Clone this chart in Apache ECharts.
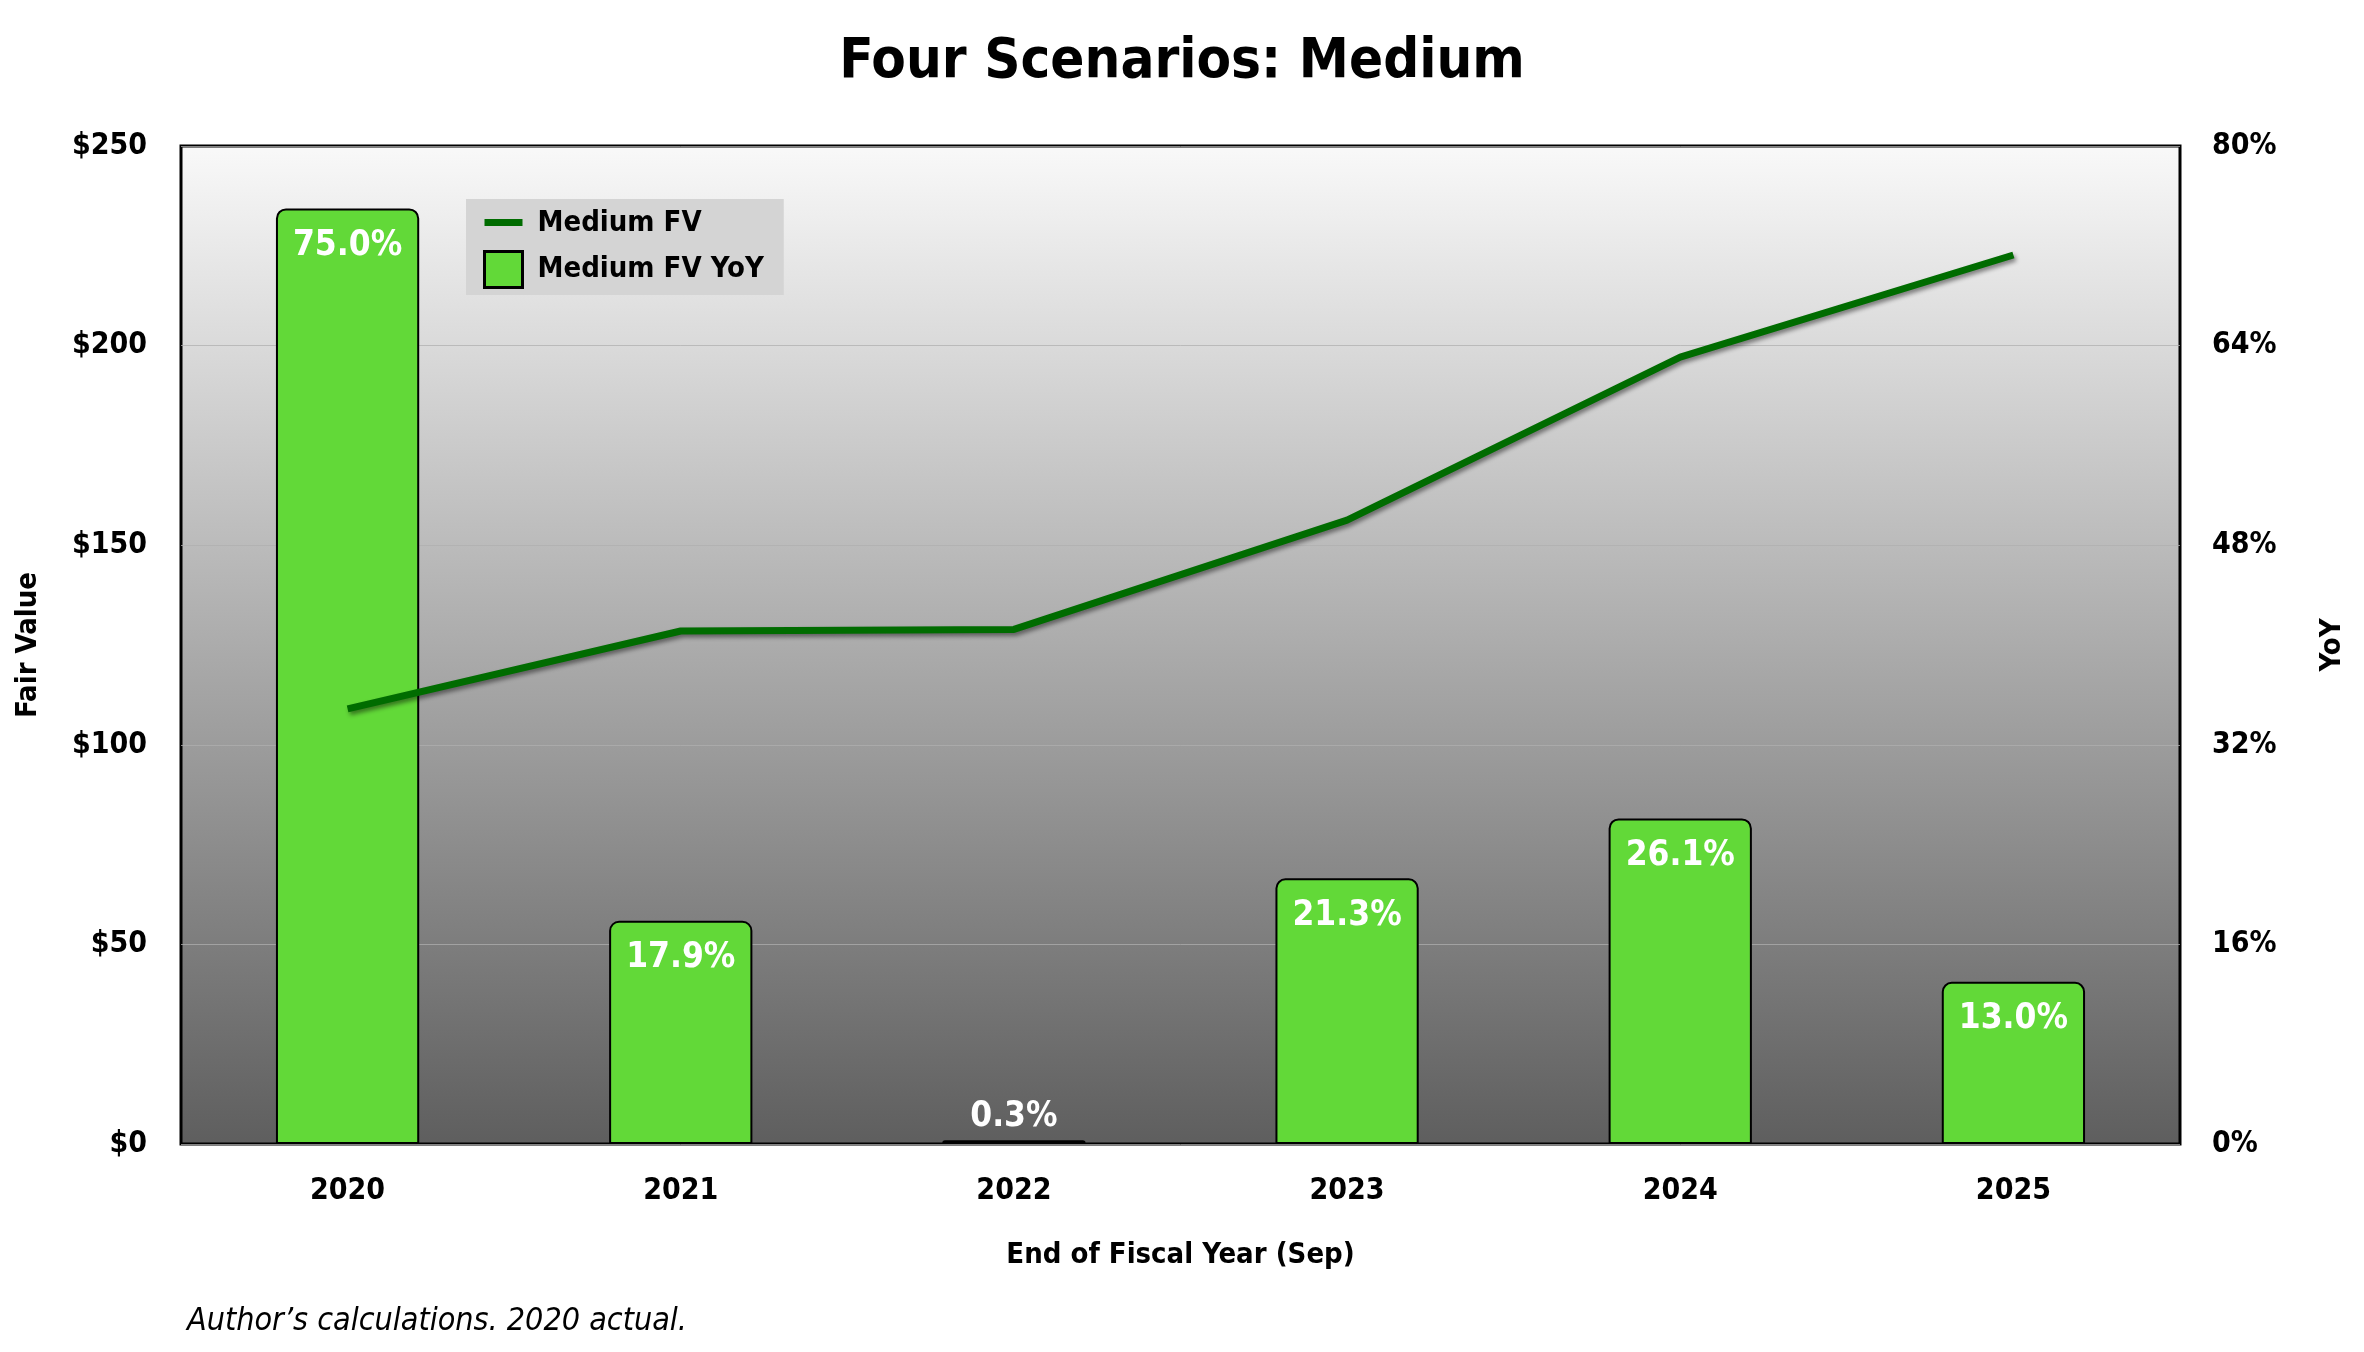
<!DOCTYPE html>
<html>
<head>
<meta charset="utf-8">
<script src="https://cdn.jsdelivr.net/npm/echarts@6/dist/echarts.min.js"></script>
<style>
html,body{margin:0;padding:0;background:#fff;}
#chart{width:2364px;height:1352px;}
</style>
</head>
<body>
<div id="chart"></div>
<script>
const categories = ['2020', '2021', '2022', '2023', '2024', '2025'];
const fairValue = [109.0, 128.5, 128.9, 156.3, 197.1, 222.7];
const yoyPct = [75.0, 17.9, 0.3, 21.3, 26.1, 13.0];
const leftTicks = [0, 50, 100, 150, 200, 250];
const rightTicks = [0, 16, 32, 48, 64, 80];

const FONT = "'Liberation Sans Narrow', 'Arial Narrow', 'DejaVu Sans Condensed', sans-serif";

const chart = echarts.init(document.getElementById('chart'), null, {renderer: 'canvas'});

const barData = yoyPct.map(v => v < 5 ? {value: v, label: {position: 'top', distance: 6}} : v);

chart.setOption({
  animation: false,
  backgroundColor: '#ffffff',
  textStyle: {fontFamily: FONT},
  title: {
    text: 'Four Scenarios: Medium',
    left: 'center',
    top: 29,
    textStyle: {fontFamily: FONT, fontWeight: 'bold', fontSize: 56, color: '#000'}
  },
  legend: {
    orient: 'vertical',
    left: 466,
    top: 199,
    backgroundColor: '#d4d4d4',
    borderRadius: 0,
    padding: [6, 20, 6, 17],
    itemWidth: 38,
    itemHeight: 36,
    itemGap: 9,
    textStyle: {fontFamily: FONT, fontWeight: 'bold', fontSize: 29, color: '#000', padding: [0, 0, 0, 10]},
    data: [
      {name: 'Medium FV', icon: 'path://M0,0M0,14h38v7h-38zM38,36', itemStyle: {color: '#006c00', borderWidth: 0}},
      {name: 'Medium FV YoY', icon: 'rect', itemStyle: {color: '#62d938', borderColor: '#000', borderWidth: 3}}
    ]
  },
  grid: {
    left: 181, right: 184, top: 146, bottom: 208,
    show: true,
    borderColor: '#000',
    borderWidth: 3,
    backgroundColor: new echarts.graphic.LinearGradient(0, 0, 0, 1, [
      {offset: 0, color: '#f9f9f9'},
      {offset: 1, color: '#5e5e5e'}
    ])
  },
  xAxis: {
    type: 'category',
    data: categories,
    axisLine: {show: false},
    axisTick: {show: false},
    axisLabel: {fontFamily: FONT, fontWeight: 'bold', fontSize: 30, color: '#000', margin: 32},
    name: 'End of Fiscal Year (Sep)',
    nameLocation: 'middle',
    nameGap: 97,
    nameTextStyle: {fontFamily: FONT, fontWeight: 'bold', fontSize: 29, color: '#000'}
  },
  yAxis: [
    {
      type: 'value',
      min: leftTicks[0],
      max: leftTicks[leftTicks.length - 1],
      interval: leftTicks[1] - leftTicks[0],
      axisLine: {show: false},
      axisTick: {show: false},
      splitLine: {show: true, lineStyle: {color: 'rgba(175,175,175,0.75)', width: 1}},
      axisLabel: {fontFamily: FONT, fontWeight: 'bold', fontSize: 30, color: '#000', margin: 34, formatter: v => '$' + v},
      name: 'Fair Value',
      nameLocation: 'middle',
      nameRotate: 90,
      nameGap: 138,
      nameTextStyle: {fontFamily: FONT, fontWeight: 'bold', fontSize: 29, color: '#000'}
    },
    {
      type: 'value',
      min: rightTicks[0],
      max: rightTicks[rightTicks.length - 1],
      interval: rightTicks[1] - rightTicks[0],
      axisLine: {show: false},
      axisTick: {show: false},
      splitLine: {show: false},
      axisLabel: {fontFamily: FONT, fontWeight: 'bold', fontSize: 30, color: '#000', margin: 32, formatter: v => v + '%'},
      name: 'YoY',
      nameLocation: 'middle',
      nameRotate: 90,
      nameGap: 138,
      nameTextStyle: {fontFamily: FONT, fontWeight: 'bold', fontSize: 29, color: '#000'}
    }
  ],
  series: [
    {
      name: 'Medium FV YoY',
      type: 'bar',
      yAxisIndex: 1,
      data: barData,
      barWidth: '43%',
      itemStyle: {color: '#62d938', borderColor: '#000', borderWidth: 2, borderRadius: [9, 9, 0, 0]},
      label: {
        show: true,
        position: 'insideTop',
        distance: 20,
        color: '#fff',
        fontFamily: FONT,
        fontWeight: 'bold',
        fontSize: 35,
        formatter: p => p.value.toFixed(1) + '%'
      },
      z: 2
    },
    {
      name: 'Medium FV',
      type: 'line',
      yAxisIndex: 0,
      data: fairValue,
      symbol: 'none',
      lineStyle: {color: '#006c00', width: 7, cap: 'butt', shadowColor: 'rgba(0,0,0,0.45)', shadowBlur: 4, shadowOffsetX: 2, shadowOffsetY: 3},
      itemStyle: {color: '#006c00'},
      z: 3
    }
  ],
  graphic: [
    {
      type: 'text',
      left: 187,
      top: 1306,
      style: {text: 'Author\u2019s calculations. 2020 actual.', font: 'italic 32px ' + FONT, fill: '#000'}
    }
  ]
});
</script>
</body>
</html>
